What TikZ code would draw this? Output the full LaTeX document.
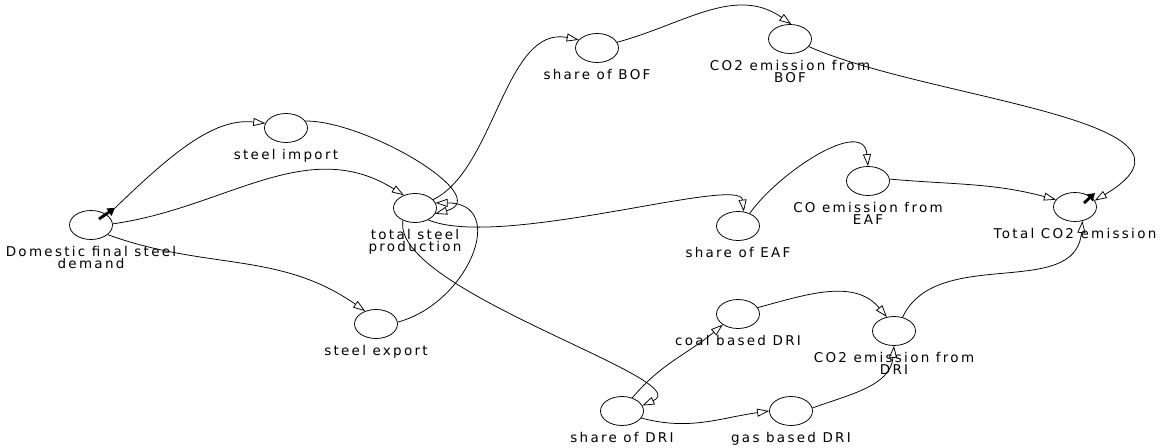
\documentclass[tikz,border=0pt]{standalone}
\usepackage{fontspec}
\setmainfont{DejaVu Sans}[LetterSpace=17]
\usetikzlibrary{positioning}
\usetikzlibrary{arrows.meta}
\usetikzlibrary{shapes.geometric}
\usetikzlibrary{calc}

\begin{document}
\begin{tikzpicture}[x=0.03cm,y=0.03cm,line width=0.65pt,
  var/.style={draw,ellipse,minimum width=1.29cm,minimum height=0.87cm,inner sep=0pt},
  lbl/.style={inner sep=0pt,align=center,font=\fontsize{11.5}{10.5}\selectfont},
  link/.style={-{Triangle[open,length=3.6mm,width=2.4mm]}},
  selarrow/.style={line width=2.4pt,-{Triangle[length=2.2mm,width=2.6mm]}}]

  % fixed frame (pixels of the original)
  \useasboundingbox (0,0) rectangle (1165,-448);

  % Variables
  \node[var] (dom)  at (91,-225)  {};
  \node[var] (imp)  at (286,-128) {};
  \node[var] (tsp)  at (415,-208) {};
  \node[var] (exp)  at (376,-324) {};
  \node[var] (bof)  at (597,-48)  {};
  \node[var] (cbof) at (790,-39)  {};
  \node[var] (eaf)  at (738,-226) {};
  \node[var] (ceaf) at (868,-181) {};
  \node[var] (tot)  at (1075,-207) {};
  \node[var] (coal) at (738,-314) {};
  \node[var] (cdri) at (894,-331) {};
  \node[var] (dri)  at (622,-411) {};
  \node[var] (gas)  at (791,-411) {};

  % Names under the variables
  \node[lbl, below=0.18cm of dom]  (dom-l)  {Domestic final steel\\demand};
  \node[lbl, below=0.18cm of imp]  (imp-l)  {steel import};
  \node[lbl, below=0.18cm of tsp]  (tsp-l)  {total steel\\production};
  \node[lbl, below=0.18cm of exp]  (exp-l)  {steel export};
  \node[lbl, below=0.18cm of bof]  (bof-l)  {share of BOF};
  \node[lbl, below=0.18cm of cbof] (cbof-l) {CO2 emission from\\BOF};
  \node[lbl, below=0.18cm of eaf]  (eaf-l)  {share of EAF};
  \node[lbl, below=0.18cm of ceaf] (ceaf-l) {CO emission from\\EAF};
  \node[lbl, below=0.18cm of tot]  (tot-l)  {Total CO2 emission};
  \node[lbl, below=0.18cm of coal] (coal-l) {coal based DRI};
  \node[lbl, below=0.18cm of cdri] (cdri-l) {CO2 emission from\\DRI};
  \node[lbl, below=0.18cm of dri]  (dri-l)  {share of DRI};
  \node[lbl, below=0.18cm of gas]  (gas-l)  {gas based DRI};

  % Selection marks
  \coordinate (dom-sel) at (115,-208);
  \coordinate (tot-sel) at (1095,-193);
  \draw[selarrow] ($(dom)+(8,6)$) -- (dom-sel);
  \draw[selarrow] ($(tot)+(9,4)$) -- (tot-sel);

  % Steel side
  \draw[link] (dom-sel) .. controls (175,-150) and (215,-118) .. (imp.167);
  \draw[link] (dom.3) to[out=8,in=148] (tsp.131);
  \draw[link] (dom.-30) to[out=-20,in=145] (exp.130);
  \draw[link] (imp.20) to[out=0,in=15] (tsp.-16);
  \draw[link] (exp.5) to[out=15,in=0,looseness=1.5] (tsp.14);

  % Routes
  \draw[link] (tsp.25) .. controls (495,-170) and (505,-25) .. (bof.156);
  \draw[link] (tsp.-42) .. controls (500,-250) and (740,-175) .. (eaf.68);
  \draw[link] (tsp.-134) .. controls (390,-290) and (700,-380) .. (dri.15);

  % Emissions
  \draw[link] (bof.16) to[out=15,in=145] (cbof.85);
  \draw[link] (eaf.47) to[out=55,in=95] (ceaf.north);
  \draw[link] (cbof.-22) .. controls (930,-100) and (1230,-120) .. (tot.18);
  \draw[link] (ceaf.5) to[out=-5,in=165] (tot.159);

  % DRI
  \draw[link] (dri.52) to[out=50,in=-140] (coal.-145);
  \draw[link] (dri.-20) to[out=-15,in=188] (gas.west);
  \draw[link] (coal.18) to[out=15,in=130] (cdri.117);
  \draw[link] (gas.8) to[out=20,in=-95] (cdri.south);
  \draw[link] (cdri.58) to[out=65,in=-95] (tot.-62);

\end{tikzpicture}
\end{document}
